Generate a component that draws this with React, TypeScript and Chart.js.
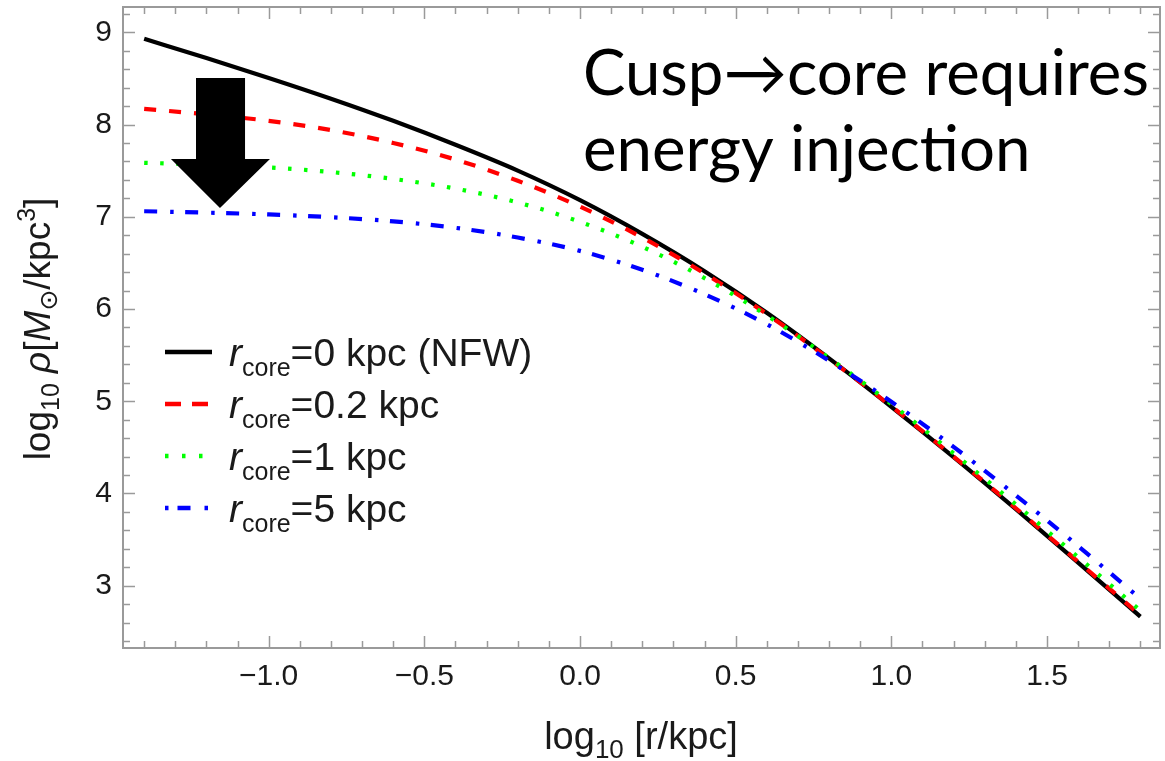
import React, { useEffect, useRef } from "react";
import { Chart, registerables } from "chart.js";

Chart.register(...registerables);

// ---------- data ----------
const LOG_R = [-1.4, -1.2, -1.0, -0.8, -0.6, -0.4, -0.2, 0.0, 0.2, 0.4, 0.6, 0.8, 1.0, 1.2, 1.4, 1.6, 1.8];
const RHO_NFW = [8.93, 8.72, 8.505, 8.28, 8.04, 7.78, 7.5, 7.18, 6.815, 6.41, 5.96, 5.465, 4.94, 4.395, 3.83, 3.25, 2.665];
const RHO_CORE_02 = [8.17, 8.11, 8.04, 7.94, 7.8, 7.62, 7.39, 7.11, 6.775, 6.385, 5.945, 5.46, 4.945, 4.4, 3.84, 3.26, 2.68];
const RHO_CORE_1 = [7.585, 7.565, 7.535, 7.485, 7.41, 7.305, 7.155, 6.945, 6.675, 6.335, 5.93, 5.47, 4.97, 4.435, 3.88, 3.31, 2.73];
const RHO_CORE_5 = [7.06, 7.045, 7.025, 6.995, 6.95, 6.88, 6.775, 6.63, 6.425, 6.16, 5.835, 5.44, 4.995, 4.505, 3.98, 3.43, 2.86];
const SERIES = [RHO_NFW, RHO_CORE_02, RHO_CORE_1, RHO_CORE_5];
const LEGEND_LABELS = ["=0 kpc (NFW)", "=0.2 kpc", "=1 kpc", "=5 kpc"];
const TITLE_LINES = ["Cusp\u2192core requires", "energy injection"];

const X_MIN = -1.468, X_MAX = 1.863;
const Y_MIN = 2.325, Y_MAX = 9.274;
const X_MAJOR = 0.5, X_MINOR = 0.1;
const Y_MAJOR = 1, Y_MINOR = 0.2;

// arrow annotation in data coordinates
const ARROW = { shaftL: -1.2335, shaftR: -1.076, headL: -1.314, headR: -0.996, tipX: -1.1565, top: 8.505, neck: 7.627, tip: 7.096 };

// ---------- styles ----------
const SANS = "'Liberation Sans', Arial, Helvetica, sans-serif";
const FRAME_COLOR = "#9a9a9a";
const TEXT_COLOR = "#1a1a1a";
const STYLES = [
  { color: "#000000", dash: [] as number[], width: 4.2, legendDash: [] as number[], order: 4 },
  { color: "#ff0000", dash: [12, 13], width: 4.2, legendDash: [16, 11], order: 3 },
  { color: "#00ff00", dash: [3.5, 12.5], width: 4.2, legendDash: [3.5, 13.5], order: 2 },
  { color: "#0000ff", dash: [13, 13, 3.5, 11.5], width: 4.2, legendDash: [3.5, 9, 13, 14], order: 1 },
];

type Run = { text: string; size: number; italic?: boolean; dy?: number; family?: string };

function drawRuns(ctx: CanvasRenderingContext2D, runs: Run[], x: number, y: number, draw = true) {
  let cx = x;
  for (const r of runs) {
    ctx.font = `${r.italic ? "italic " : ""}${r.size}px ${r.family || SANS}`;
    if (draw) ctx.fillText(r.text, cx, y + (r.dy || 0));
    cx += ctx.measureText(r.text).width;
  }
  return cx - x;
}

const fmtMinus = (s: string) => s.replace("-", "\u2212");

const decorPlugin = {
  id: "decor",
  afterDatasetsDraw(chart: any) {
    const { ctx, chartArea: a, scales } = chart;
    const xs = scales.x, ys = scales.y;
    const px = (v: number) => xs.getPixelForValue(v);
    const py = (v: number) => ys.getPixelForValue(v);
    ctx.save();

    // arrow
    ctx.fillStyle = "#000";
    ctx.beginPath();
    ctx.moveTo(px(ARROW.shaftL), py(ARROW.top));
    ctx.lineTo(px(ARROW.shaftR), py(ARROW.top));
    ctx.lineTo(px(ARROW.shaftR), py(ARROW.neck));
    ctx.lineTo(px(ARROW.headR), py(ARROW.neck));
    ctx.lineTo(px(ARROW.tipX), py(ARROW.tip));
    ctx.lineTo(px(ARROW.headL), py(ARROW.neck));
    ctx.lineTo(px(ARROW.shaftL), py(ARROW.neck));
    ctx.closePath();
    ctx.fill();

    // frame
    ctx.strokeStyle = FRAME_COLOR;
    ctx.lineWidth = 2;
    ctx.setLineDash([]);
    ctx.strokeRect(a.left, a.top, a.right - a.left, a.bottom - a.top);

    // inward ticks on all four sides
    ctx.lineWidth = 1.5;
    const seg = (x1: number, y1: number, x2: number, y2: number) => {
      ctx.beginPath(); ctx.moveTo(x1, y1); ctx.lineTo(x2, y2); ctx.stroke();
    };
    for (let k = Math.ceil(X_MIN / X_MINOR - 1e-9); k * X_MINOR <= X_MAX + 1e-9; k++) {
      const v = k * X_MINOR;
      const major = Math.abs(v / X_MAJOR - Math.round(v / X_MAJOR)) < 1e-6;
      const len = major ? 12 : 7;
      const x = Math.round(px(v)) + 0.5;
      seg(x, a.bottom, x, a.bottom - len);
      seg(x, a.top, x, a.top + len);
    }
    for (let k = Math.ceil(Y_MIN / Y_MINOR - 1e-9); k * Y_MINOR <= Y_MAX + 1e-9; k++) {
      const v = k * Y_MINOR;
      const major = Math.abs(v / Y_MAJOR - Math.round(v / Y_MAJOR)) < 1e-6;
      const len = major ? 12 : 7;
      const y = Math.round(py(v)) + 0.5;
      seg(a.left, y, a.left + len, y);
      seg(a.right, y, a.right - len, y);
    }
    ctx.restore();
  },
  afterDraw(chart: any) {
    const { ctx, chartArea: a } = chart;
    ctx.save();
    ctx.fillStyle = TEXT_COLOR;
    ctx.textBaseline = "alphabetic";
    ctx.textAlign = "left";

    // x-axis title
    const xRuns: Run[] = [
      { text: "log", size: 38 },
      { text: "10", size: 26, dy: 9 },
      { text: " [r/kpc]", size: 38 },
    ];
    const xw = drawRuns(ctx, xRuns, 0, 0, false);
    drawRuns(ctx, xRuns, 641 - xw / 2, 749);

    // y-axis title (rotated)
    const yRuns: Run[] = [
      { text: "log", size: 37 },
      { text: "10", size: 25, dy: 9 },
      { text: " ", size: 37 },
      { text: "\u03c1", size: 37, italic: true },
      { text: "[", size: 37 },
      { text: "M", size: 37, italic: true },
      { text: "\u2299", size: 25, dy: 7, family: "'DejaVu Sans', sans-serif" },
      { text: "/kpc", size: 37 },
      { text: "3", size: 25, dy: -15 },
      { text: "]", size: 37 },
    ];
    const yw = drawRuns(ctx, yRuns, 0, 0, false);
    ctx.save();
    ctx.translate(50, 329);
    ctx.rotate(-Math.PI / 2);
    drawRuns(ctx, yRuns, -yw / 2, 0);
    ctx.restore();

    // legend
    const lx0 = a.left + 42, lx1 = a.left + 89;
    LEGEND_LABELS.forEach((label, i) => {
      const st = STYLES[i];
      const y = 352 + i * 52;
      ctx.strokeStyle = st.color;
      ctx.lineWidth = 4.5;
      ctx.setLineDash(st.legendDash);
      ctx.beginPath();
      ctx.moveTo(lx0, y);
      ctx.lineTo(lx1, y);
      ctx.stroke();
      ctx.setLineDash([]);
      ctx.fillStyle = TEXT_COLOR;
      drawRuns(ctx, [
        { text: "r", size: 39, italic: true },
        { text: "core", size: 25, dy: 10 },
        { text: label, size: 39 },
      ], a.left + 106, y + 14);
    });

    // annotation text
    ctx.fillStyle = "#000";
    const fam = "Lato, 'Open Sans', sans-serif";
    ctx.font = `100px ${fam}`;
    const w0 = ctx.measureText(TITLE_LINES[0]).width;
    const size = (100 * 566) / w0;
    ctx.font = `${size}px ${fam}`;
    ctx.fillText(TITLE_LINES[0], 583, 95);
    ctx.fillText(TITLE_LINES[1], 583, 171);
    ctx.restore();
  },
};

export default function App() {
  const ref = useRef<HTMLCanvasElement>(null);
  useEffect(() => {
    const datasets = SERIES.map((vals, i) => ({
      label: LEGEND_LABELS[i],
      data: LOG_R.map((x, j) => ({ x, y: vals[j] })),
      borderColor: STYLES[i].color,
      backgroundColor: STYLES[i].color,
      borderWidth: STYLES[i].width,
      borderDash: STYLES[i].dash,
      pointRadius: 0,
      fill: false,
      cubicInterpolationMode: "monotone" as const,
      order: STYLES[i].order,
    }));
    const chart = new Chart(ref.current as HTMLCanvasElement, {
      type: "line",
      data: { datasets },
      options: {
        responsive: false,
        devicePixelRatio: 1,
        animation: false,
        layout: { padding: { top: 7, right: 5, left: 0, bottom: 0 } },
        plugins: { legend: { display: false }, tooltip: { enabled: false }, title: { display: false } },
        scales: {
          x: {
            type: "linear",
            min: X_MIN,
            max: X_MAX,
            bounds: "ticks",
            grid: { display: false, drawTicks: false },
            border: { display: false },
            ticks: {
              stepSize: X_MAJOR,
              includeBounds: false,
              autoSkip: false,
              maxRotation: 0,
              padding: 11,
              color: TEXT_COLOR,
              font: { size: 30, family: SANS },
              callback: (v: any) => (Math.abs(Number(v)) < 1e-9 ? "0.0" : fmtMinus(Number(v).toFixed(1))),
            },
            afterFit: (s: any) => { s.height = 113; s.paddingLeft = 0; s.paddingRight = 0; },
          },
          y: {
            type: "linear",
            min: Y_MIN,
            max: Y_MAX,
            bounds: "ticks",
            grid: { display: false, drawTicks: false },
            border: { display: false },
            ticks: {
              stepSize: Y_MAJOR,
              includeBounds: false,
              autoSkip: false,
              padding: 11,
              color: TEXT_COLOR,
              font: { size: 30, family: SANS },
              callback: (v: any) => String(Math.round(Number(v))),
            },
            afterFit: (s: any) => { s.width = 123; s.paddingTop = 0; s.paddingBottom = 0; },
          },
        },
      },
      plugins: [decorPlugin],
    } as any);
    return () => chart.destroy();
  }, []);
  return (
    <div style={{ position: "absolute", left: 0, top: 0, width: 1165, height: 761, background: "#fff" }}>
      <canvas ref={ref} width={1165} height={761} style={{ width: 1165, height: 761, display: "block" }} />
    </div>
  );
}
